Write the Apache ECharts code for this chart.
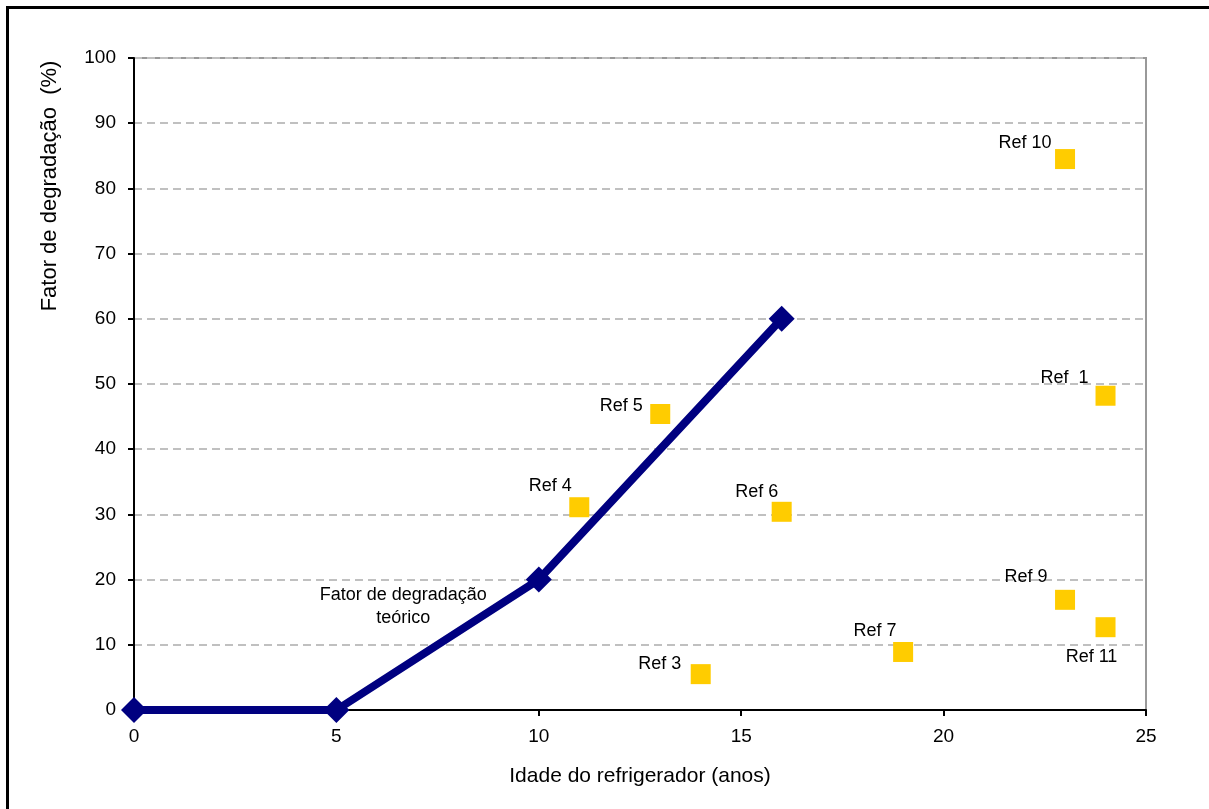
<!DOCTYPE html>
<html><head><meta charset="utf-8">
<script src="https://cdn.jsdelivr.net/npm/echarts@6/dist/echarts.min.js"></script>
<style>html,body{margin:0;padding:0;background:#fff}#c{width:1209px;height:809px}</style>
</head><body><div id="c"></div>
<script>
// Theoretical degradation line
const lineX = [0, 5, 10, 16];
const lineY = [0, 0, 20, 60];
// Measured refrigerators
const refNames = ['Ref 10', 'Ref  1', 'Ref 5', 'Ref 4', 'Ref 6', 'Ref 9', 'Ref 11', 'Ref 7', 'Ref 3'];
const refX = [23, 24, 13, 11, 16, 23, 24, 19, 14];
const refY = [84.5, 48.2, 45.4, 31.1, 30.4, 16.9, 12.7, 8.9, 5.5];
const xTicks = [0, 5, 10, 15, 20, 25];
const yTicks = [0, 10, 20, 30, 40, 50, 60, 70, 80, 90, 100];
const lineLabel = ['Fator de degradação', 'teórico'];
const lineLabelAt = [6.65, 15.8];
const xTitle = 'Idade do refrigerador (anos)';
const yTitle = 'Fator de degradação  (%)';

// label placement (style only)
const labelOffsets = [[-40,-16],[-41,-18],[-39,-8],[-29,-21],[-25,-20],[-39,-23],[-14,30],[-28,-21],[-41,-10]];

const FONT = '"Liberation Sans", Arial, sans-serif';
const chart = echarts.init(document.getElementById('c'), null, {renderer: 'canvas'});
const scatterData = refX.map((x, i) => ({
  value: [x, refY[i]], name: refNames[i],
  label: {show: true, formatter: refNames[i], position: 'inside', offset: labelOffsets[i],
          color: '#000', fontSize: 18, fontFamily: FONT}
}));
chart.setOption({
  animation: false,
  grid: {left: 134, right: 63, top: 58, bottom: 99, show: true, borderColor: '#999', borderWidth: 2, backgroundColor: 'transparent'},
  xAxis: {
    type: 'value', min: 0, max: 25, interval: 5,
    axisLine: {show: true, onZero: false, lineStyle: {color: '#000', width: 2}},
    axisTick: {show: true, length: 6, lineStyle: {color: '#000', width: 2}},
    axisLabel: {color: '#000', fontSize: 19, fontFamily: FONT, margin: 17,
      formatter: v => xTicks.includes(v) ? String(v) : ''},
    splitLine: {show: false},
    name: xTitle, nameLocation: 'middle', nameGap: 56,
    nameTextStyle: {color: '#000', fontSize: 21, fontFamily: FONT}
  },
  yAxis: {
    type: 'value', min: 0, max: 100, interval: 10,
    axisLine: {show: true, onZero: false, lineStyle: {color: '#000', width: 2}},
    axisTick: {show: true, length: 6, lineStyle: {color: '#000', width: 2}},
    axisLabel: {color: '#000', fontSize: 19, fontFamily: FONT, margin: 18,
      formatter: v => yTicks.includes(v) ? String(v) : ''},
    splitLine: {show: true, lineStyle: {color: '#c0c0c0', type: [8, 5], width: 2}}
  },
  graphic: [
    {type: 'rect', left: 5, top: 5, shape: {width: 1400, height: 1000}, style: {fill: 'none', stroke: '#000', lineWidth: 3}, silent: true, z: 100},
    {type: 'text', x: 50, y: 186, rotation: Math.PI / 2,
      style: {text: yTitle, fill: '#000', font: '22px ' + FONT, textAlign: 'center', textVerticalAlign: 'middle'}}
  ],
  series: [
    {
      type: 'line', data: lineX.map((x, i) => [x, lineY[i]]),
      lineStyle: {color: '#000080', width: 8}, itemStyle: {color: '#000080'},
      symbol: 'diamond', symbolSize: 26, z: 3,
      markPoint: {
        symbol: 'circle', symbolSize: 1,
        itemStyle: {color: 'rgba(0,0,0,0)'},
        data: [{coord: lineLabelAt}],
        label: {show: true, formatter: lineLabel.join('\n'), color: '#000', fontSize: 18, fontFamily: FONT, lineHeight: 23, align: 'center', verticalAlign: 'middle', position: 'inside'}
      }
    },
    {
      type: 'scatter', data: scatterData, symbol: 'rect', symbolSize: 20,
      itemStyle: {color: '#FFCC00', opacity: 1}, z: 4
    }
  ]
});
</script></body></html>
